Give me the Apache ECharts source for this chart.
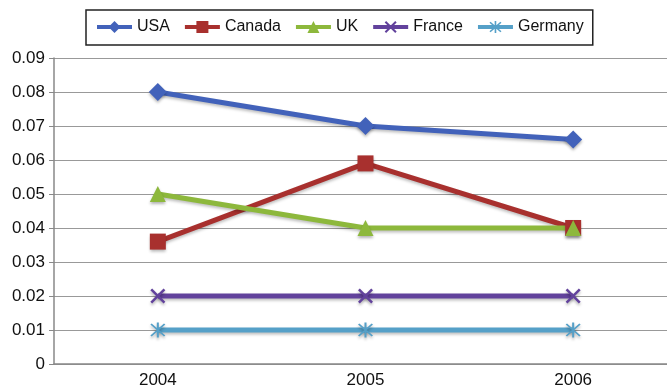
<!DOCTYPE html>
<html>
<head>
<meta charset="utf-8">
<script src="https://cdn.jsdelivr.net/npm/echarts@6/dist/echarts.min.js"></script>
<style>
  html, body { margin: 0; padding: 0; background: #fff; }
  #chart { width: 667px; height: 388px; }
</style>
</head>
<body>
<div id="chart"></div>
<script>
// Category axis and y-axis ticks
const years = ['2004', '2005', '2006'];
const yTicks = [0, 0.01, 0.02, 0.03, 0.04, 0.05, 0.06, 0.07, 0.08, 0.09];

// Series values per country
const usa = [0.08, 0.07, 0.066];
const canada = [0.036, 0.059, 0.04];
const uk = [0.05, 0.04, 0.04];
const france = [0.02, 0.02, 0.02];
const germany = [0.01, 0.01, 0.01];

// Marker shapes
const xMark = 'path://M1.2,0 L5,3.8 L8.8,0 L10,1.2 L6.2,5 L10,8.8 L8.8,10 L5,6.2 L1.2,10 L0,8.8 L3.8,5 L0,1.2 Z';
const starMark = 'path://M4.4,0 L5.6,0 L5.6,10 L4.4,10 Z M1.4,0.6 L9.4,8.6 L8.6,9.4 L0.6,1.4 Z M8.6,0.6 L9.4,1.4 L1.4,9.4 L0.6,8.6 Z';

const FONT = 'Liberation Sans';

function makeSeries(name, data, color, symbol, size) {
  return {
    name: name,
    type: 'line',
    data: data,
    symbol: symbol,
    symbolSize: size,
    lineStyle: { width: 5, color: color, shadowColor: 'rgba(0,0,0,0.25)', shadowBlur: 3, shadowOffsetY: 2 },
    itemStyle: { color: color, shadowColor: 'rgba(0,0,0,0.3)', shadowBlur: 3, shadowOffsetY: 2 },
    emphasis: { disabled: true },
    z: 3
  };
}

const chart = echarts.init(document.getElementById('chart'), null, { renderer: 'canvas' });
chart.setOption({
  animation: false,
  backgroundColor: '#fff',
  legend: {
    left: 86,
    top: 10,
    padding: [9, 9, 10, 9],
    itemWidth: 35,
    itemHeight: 15,
    itemGap: 13,
    borderColor: '#222',
    borderWidth: 1.5,
    lineStyle: { width: 4, shadowBlur: 0 },
    itemStyle: { shadowBlur: 0 },
    textStyle: { fontFamily: FONT, fontSize: 16, color: '#111' },
    data: ['USA', 'Canada', 'UK', 'France', 'Germany']
  },
  grid: { left: 54, top: 58, bottom: 24, right: -10, containLabel: false, outerBoundsMode: 'none' },
  xAxis: {
    type: 'category',
    data: years,
    boundaryGap: true,
    axisLine: { lineStyle: { color: '#888', width: 1.5 } },
    axisTick: { show: false },
    axisLabel: { fontFamily: FONT, fontSize: 17, color: '#111', margin: 8 }
  },
  yAxis: {
    type: 'value',
    min: yTicks[0],
    max: yTicks[yTicks.length - 1],
    interval: 0.01,
    axisLine: { show: true, lineStyle: { color: '#888', width: 1.5 } },
    axisTick: { show: true, length: 5, lineStyle: { color: '#888' } },
    axisLabel: {
      fontFamily: FONT, fontSize: 17, color: '#111', margin: 9,
      formatter: v => {
        const t = yTicks.find(x => Math.abs(x - v) < 1e-9);
        return t === 0 ? '0' : (t !== undefined ? t.toFixed(2) : '');
      }
    },
    splitLine: { lineStyle: { color: '#999', width: 1.2 } }
  },
  series: [
    makeSeries('USA', usa, '#4262BA', 'diamond', 18),
    makeSeries('Canada', canada, '#A8302E', 'rect', 16),
    makeSeries('UK', uk, '#8DB83C', 'triangle', 16),
    makeSeries('France', france, '#62429C', xMark, 15),
    makeSeries('Germany', germany, '#55A0C8', starMark, 15)
  ]
});
</script>
</body>
</html>
